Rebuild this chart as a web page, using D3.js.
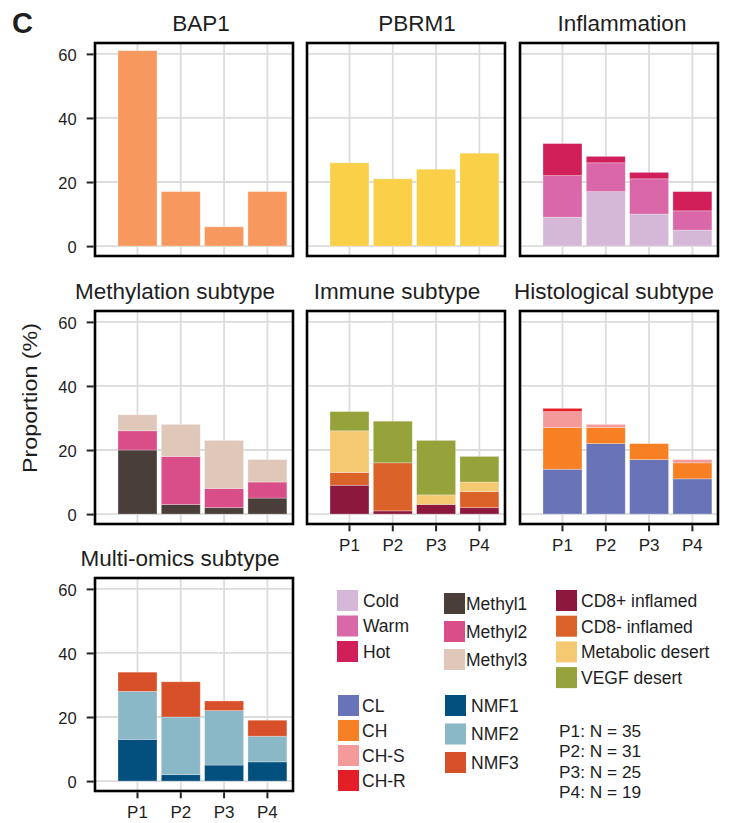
<!DOCTYPE html>
<html>
<head>
<meta charset="utf-8">
<script src="https://cdn.jsdelivr.net/npm/d3@7"></script>
<style>
  html, body { margin: 0; padding: 0; background: #fff; }
  svg { display: block; font-family: "Liberation Sans", Arial, Helvetica, sans-serif; }
</style>
</head>
<body>
<svg id="chart" width="732" height="823"></svg>
<script>
// ---- data: proportion (%) of patients per group P1..P4 ----
const periods = ["P1", "P2", "P3", "P4"];
const yTicks = [0, 20, 40, 60];

const bap1 = [61, 17, 6, 17];
const pbrm1 = [26, 21, 24, 29];

const inflammationKeys = ["Cold", "Warm", "Hot"];
const cold = [9, 17, 10, 5];
const warm = [13, 9, 11, 6];
const hot = [10, 2, 2, 6];

const methylationKeys = ["Methyl1", "Methyl2", "Methyl3"];
const methyl1 = [20, 3, 2, 5];
const methyl2 = [6, 15, 6, 5];
const methyl3 = [5, 10, 15, 7];

const immuneKeys = ["CD8+ inflamed", "CD8- inflamed", "Metabolic desert", "VEGF desert"];
const cd8pos = [9, 1, 3, 2];
const cd8neg = [4, 15, 0, 5];
const metabolicDesert = [13, 0, 3, 3];
const vegfDesert = [6, 13, 17, 8];

const histologicalKeys = ["CL", "CH", "CH-S", "CH-R"];
const histCL = [14, 22, 17, 11];
const histCH = [13, 5, 5, 5];
const histCHS = [5, 1, 0, 1];
const histCHR = [1, 0, 0, 0];

const multiomicsKeys = ["NMF1", "NMF2", "NMF3"];
const nmf1 = [13, 2, 5, 6];
const nmf2 = [15, 18, 17, 8];
const nmf3 = [6, 11, 3, 5];

const groupSizes = [35, 31, 25, 19];

// ---- colours ----
const colors = {
  "BAP1": "#F7995E",
  "PBRM1": "#F9D048",
  "Cold": "#D5B8D8", "Warm": "#DA67A8", "Hot": "#D01F59",
  "Methyl1": "#4A3E3A", "Methyl2": "#D94E88", "Methyl3": "#DFC8BA",
  "CD8+ inflamed": "#8C183D", "CD8- inflamed": "#DB6228",
  "Metabolic desert": "#F5C872", "VEGF desert": "#96A23A",
  "CL": "#6874B7", "CH": "#F68023", "CH-S": "#F49A9A", "CH-R": "#E31E27",
  "NMF1": "#034F7E", "NMF2": "#8AB8C6", "NMF3": "#D75029"
};

// build rows of {period, key: value} for stacking
function rowsFrom(keys, arrays) {
  return periods.map((p, i) => {
    const r = { period: p };
    keys.forEach((k, j) => { r[k] = arrays[j][i]; });
    return r;
  });
}

const panels = [
  { title: "BAP1", keys: ["BAP1"], rows: rowsFrom(["BAP1"], [bap1]), col: 0, row: 0, dx: 7, xAxis: false },
  { title: "PBRM1", keys: ["PBRM1"], rows: rowsFrom(["PBRM1"], [pbrm1]), col: 1, row: 0, dx: 11, xAxis: false },
  { title: "Inflammation", keys: inflammationKeys, rows: rowsFrom(inflammationKeys, [cold, warm, hot]), col: 2, row: 0, dx: 3, xAxis: false },
  { title: "Methylation subtype", keys: methylationKeys, rows: rowsFrom(methylationKeys, [methyl1, methyl2, methyl3]), col: 0, row: 1, dx: -19, xAxis: false },
  { title: "Immune subtype", keys: immuneKeys, rows: rowsFrom(immuneKeys, [cd8pos, cd8neg, metabolicDesert, vegfDesert]), col: 1, row: 1, dx: -9, xAxis: true },
  { title: "Histological subtype", keys: histologicalKeys, rows: rowsFrom(histologicalKeys, [histCL, histCH, histCHS, histCHR]), col: 2, row: 1, dx: -5, xAxis: true },
  { title: "Multi-omics subtype", keys: multiomicsKeys, rows: rowsFrom(multiomicsKeys, [nmf1, nmf2, nmf3]), col: 0, row: 2, dx: -14, xAxis: true }
];

// ---- layout ----
const colX = [95, 307, 520];
const rowY = [43, 311, 578];
const panelW = 198, panelH = 213;
const textColor = "#1e1e1e";
const gridColor = "#DCDCDC";

const svg = d3.select("#chart");

const x = d3.scaleBand().domain(periods).range([0, panelW])
  .paddingInner(0.1).paddingOuter(0.336).align(0.79);
const y = d3.scaleLinear().domain([-3.1, 63.4]).range([panelH, 0]);

// panel label
svg.append("text").attr("x", 12).attr("y", 33)
  .attr("font-size", 29).attr("font-weight", "bold").attr("fill", textColor).text("C");

// y-axis title
svg.append("text")
  .attr("transform", "translate(37,398) rotate(-90)")
  .attr("text-anchor", "middle").attr("font-size", 21).attr("fill", textColor)
  .attr("textLength", 150).attr("lengthAdjust", "spacingAndGlyphs")
  .text("Proportion (%)");

panels.forEach(p => {
  const g = svg.append("g").attr("transform", `translate(${colX[p.col]},${rowY[p.row]})`);

  // grid
  g.append("g").selectAll("line.h").data(yTicks).join("line")
    .attr("x1", 0).attr("x2", panelW).attr("y1", d => y(d)).attr("y2", d => y(d))
    .attr("stroke", gridColor).attr("stroke-width", 1.8);
  g.append("g").selectAll("line.v").data(periods).join("line")
    .attr("y1", 0).attr("y2", panelH)
    .attr("x1", d => x(d) + x.bandwidth() / 2).attr("x2", d => x(d) + x.bandwidth() / 2)
    .attr("stroke", gridColor).attr("stroke-width", 1.8);

  // stacked bars
  const series = d3.stack().keys(p.keys)(p.rows);
  g.append("g").selectAll("g").data(series).join("g")
    .attr("fill", s => colors[s.key])
    .selectAll("rect").data(s => s.filter(d => d[1] > d[0])).join("rect")
    .attr("x", d => x(d.data.period))
    .attr("width", x.bandwidth())
    .attr("y", d => y(d[1]))
    .attr("height", d => y(d[0]) - y(d[1]))
    .attr("stroke", "#ffffff").attr("stroke-opacity", 0.35).attr("stroke-width", 0.8);

  // frame
  g.append("rect").attr("x", 0).attr("y", 0).attr("width", panelW).attr("height", panelH)
    .attr("fill", "none").attr("stroke", "#000").attr("stroke-width", 2.6);

  // title
  g.append("text").attr("x", panelW / 2 + p.dx).attr("y", -12)
    .attr("text-anchor", "middle").attr("font-size", 22.5).attr("fill", textColor)
    .text(p.title);

  // y axis on first column
  if (p.col === 0) {
    const ya = g.append("g").attr("transform", "translate(-1.3,0)")
      .call(d3.axisLeft(y).tickValues(yTicks).tickSize(7).tickPadding(10).tickFormat(d3.format("d")));
    ya.select(".domain").remove();
    ya.selectAll(".tick line").attr("stroke", "#222").attr("stroke-width", 2);
    ya.selectAll(".tick text").attr("font-size", 16.5).attr("fill", textColor)
      .attr("font-family", "Liberation Sans, Arial, sans-serif").attr("dy", "0.4em");
  }

  // x axis where labelled
  if (p.xAxis) {
    const xa = g.append("g").attr("transform", `translate(0,${panelH + 1.3})`)
      .call(d3.axisBottom(x).tickSize(6).tickPadding(8));
    xa.select(".domain").remove();
    xa.selectAll(".tick line").attr("stroke", "#222").attr("stroke-width", 2);
    xa.selectAll(".tick text").attr("font-size", 17).attr("fill", textColor)
      .attr("font-family", "Liberation Sans, Arial, sans-serif");
  }
});

// ---- legends ----
function legend(keys, sx, sy, step, labelX) {
  const lg = svg.append("g");
  keys.forEach((k, i) => {
    lg.append("rect").attr("x", sx).attr("y", sy + i * step).attr("width", 21).attr("height", 21)
      .attr("fill", colors[k]);
    lg.append("text").attr("x", labelX).attr("y", sy + i * step + 10.5).attr("dy", "0.36em")
      .attr("font-size", 17.5).attr("fill", textColor).text(k);
  });
}
legend(inflammationKeys, 337, 590, 25.5, 363);
legend(methylationKeys, 444, 593, 28, 466);
legend(immuneKeys, 556, 590, 25.7, 581);
legend(histologicalKeys, 338, 695, 25, 362);
legend(multiomicsKeys, 445, 695, 28.5, 471);

svg.append("g").selectAll("text").data(groupSizes).join("text")
  .attr("x", 559).attr("y", (d, i) => 737 + i * 20.4)
  .attr("font-size", 17.3).attr("fill", textColor)
  .text((d, i) => `${periods[i]}: N = ${d}`);
</script>
</body>
</html>
